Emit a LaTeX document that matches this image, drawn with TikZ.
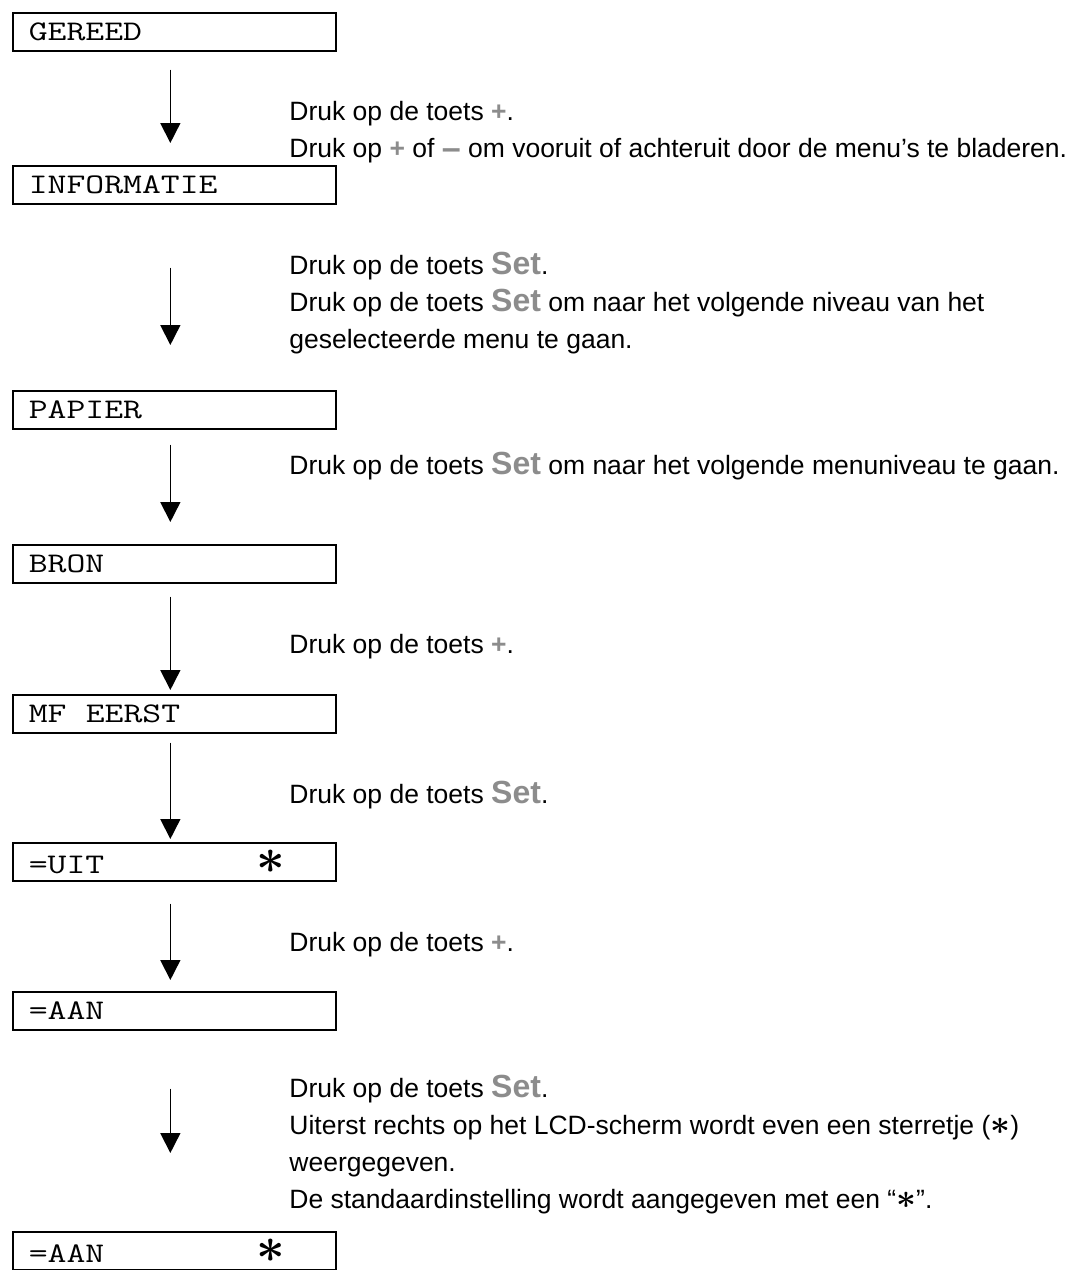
\documentclass[tikz,border=0pt]{standalone}
\usepackage{fontspec}
\setmainfont{Liberation Sans}
\newfontfamily\lcdfont[FakeStretch=1.29]{Latin Modern Mono}
\usetikzlibrary{arrows.meta}

\definecolor{keygray}{gray}{0.55}
\newcommand{\keyset}{{\color{keygray}\bfseries\fontsize{16}{18}\selectfont Set}}
\newcommand{\keyplus}{{\color{keygray}\bfseries +}}
\newcommand{\keyminus}{\raisebox{-0.8pt}{\color{keygray}\bfseries\fontsize{17}{18}\selectfont --}}
\newcommand{\lcdstar}{{\boldmath\fontsize{30}{30}\selectfont$\ast$}}
\newcommand{\txtstar}{{\boldmath\fontsize{18}{18}\selectfont$\ast$}}
\newcommand{\lcdspace}{\hspace*{9.6pt}}

\begin{document}
\begin{tikzpicture}[x=0.5pt, y=-0.5pt,
    lcd/.style={draw, line width=0.85pt, anchor=north west, minimum width=161.5pt,
        text width=145.5pt, minimum height=19pt, inner xsep=8pt, inner ysep=0pt,
        align=left, font=\fontsize{14.2}{15}\lcdfont},
    flow/.style={-{Triangle[width=10pt, length=10pt]}, line width=0.8pt},
    note/.style={anchor=north west, inner sep=0pt, align=left,
        font=\fontsize{13.25}{18.5}\selectfont}]

    \useasboundingbox (0,0) rectangle (1073,1270);

    % menu screens
    \node[lcd] (gereed) at (12,12) {GEREED};
    \node[lcd] (info) at (12,165) {INFORMATIE};
    \node[lcd] (papier) at (12,390) {PAPIER};
    \node[lcd] (bron) at (12,544) {BRON};
    \node[lcd] (mf) at (12,694) {MF\lcdspace EERST};
    \node[lcd] (uit) at (12,842) {\makebox[114pt][l]{=UIT}\lcdstar};
    \node[lcd] (aan) at (12,991) {=AAN};
    \node[lcd] (aanster) at (12,1231) {\makebox[114pt][l]{=AAN}\lcdstar};

    % arrows
    \draw[flow, shorten <=9pt, shorten >=11pt] ([xshift=-2pt]gereed.south) -- ([xshift=-2pt]info.north);
    \draw[flow, shorten <=31.5pt, shorten >=22.5pt] ([xshift=-2pt]info.south) -- ([xshift=-2pt]papier.north);
    \draw[flow, shorten <=7.5pt, shorten >=11pt] ([xshift=-2pt]papier.south) -- ([xshift=-2pt]bron.north);
    \draw[flow, shorten <=6.5pt, shorten >=2pt] ([xshift=-2pt]bron.south) -- ([xshift=-2pt]mf.north);
    \draw[flow, shorten <=4.5pt, shorten >=1.5pt] ([xshift=-2pt]mf.south) -- ([xshift=-2pt]uit.north);
    \draw[flow, shorten <=11pt, shorten >=5.5pt] ([xshift=-2pt]uit.south) -- ([xshift=-2pt]aan.north);
    \draw[flow, shorten <=29pt, shorten >=39pt] ([xshift=-2pt]aan.south) -- ([xshift=-2pt]aanster.north);

    % instructions
    \node[note] (t1) at (289,101) {Druk op de toets \keyplus.\\
        Druk op \keyplus{} of \keyminus{} om vooruit of achteruit door de menu’s te bladeren.};
    \node[note] (t2) at (289,252) {Druk op de toets \keyset.\\
        Druk op de toets \keyset{} om naar het volgende niveau van het\\
        geselecteerde menu te gaan.};
    \node[note] (t3) at (289,452) {Druk op de toets \keyset{} om naar het volgende menuniveau te gaan.};
    \node[note] (t4) at (289,634) {Druk op de toets \keyplus.};
    \node[note] (t5) at (289,781) {Druk op de toets \keyset.};
    \node[note] (t6) at (289,932) {Druk op de toets \keyplus.};
    \node[note] (t7) at (289,1075) {Druk op de toets \keyset.\\
        Uiterst rechts op het LCD-scherm wordt even een sterretje (\txtstar)\\
        weergegeven.\\
        De standaardinstelling wordt aangegeven met een “\txtstar”.};

\end{tikzpicture}
\end{document}
